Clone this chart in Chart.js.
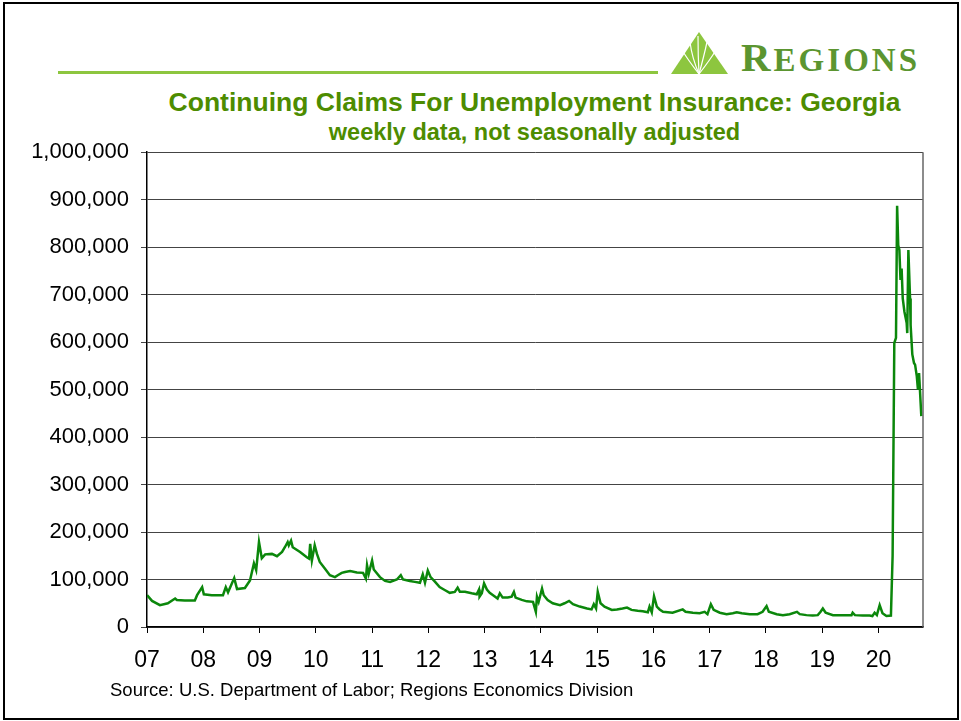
<!DOCTYPE html>
<html>
<head>
<meta charset="utf-8">
<script src="https://cdn.jsdelivr.net/npm/chart.js@4"></script>
<style>
  html, body { margin:0; padding:0; background:#fff; }
  body { width:961px; height:721px; position:relative; overflow:hidden; font-family:"Liberation Sans", Arial, sans-serif; }
  .frame { position:absolute; left:3px; top:2px; width:952px; height:714px; border:2px solid #000; }
  .topline { position:absolute; left:58px; top:71px; width:600px; height:3px; background:#8dc63f; }
  .brand { position:absolute; left:741px; top:33px; color:#5b9530; font-family:"Liberation Serif", serif; font-weight:bold; letter-spacing:3px; white-space:nowrap; }
  .brand .big { font-size:41px; }
  .brand .small { font-size:33px; }
  .title { position:absolute; left:0; width:1069px; text-align:center; color:#4d8c00; font-weight:bold; white-space:nowrap; }
  .t1 { top:87px; font-size:26.5px; }
  .t2 { top:119px; font-size:23.5px; }
  .source { position:absolute; left:110px; top:679px; font-size:18.5px; font-family:"Liberation Sans Narrow", "Liberation Sans", Arial, sans-serif; color:#000; }
  canvas { position:absolute; left:0; top:127px; }
</style>
</head>
<body>
<div class="frame"></div>
<div class="topline"></div>
<svg style="position:absolute;left:668px;top:30px" width="64" height="46" viewBox="0 0 64 46">
  <polygon points="31,2 3,44 60,44" fill="#8dc63f"/>
  <g stroke="#fff" stroke-width="1.2" fill="none">
    <path d="M31,44 Q20,30 14,20"/>
    <path d="M31,44 Q24,28 22,12"/>
    <path d="M31,44 Q30,26 30,6"/>
    <path d="M31,44 Q36,26 39,12"/>
    <path d="M31,44 Q42,30 48,20"/>
  </g>
</svg>
<div class="brand"><span class="big">R</span><span class="small">EGIONS</span></div>
<div class="title t1">Continuing Claims For Unemployment Insurance: Georgia</div>
<div class="title t2">weekly data, not seasonally adjusted</div>
<canvas id="claimsChart" width="940" height="553"></canvas>
<div class="source">Source: U.S. Department of Labor; Regions Economics Division</div>

<script>
// week dates as decimal years
const weeks = [
  2007.00, 2007.09, 2007.23, 2007.37, 2007.50, 2007.53, 2007.67, 2007.85, 2007.89, 2007.98,
  2008.01, 2008.15, 2008.35, 2008.40, 2008.44, 2008.55, 2008.60, 2008.74, 2008.83, 2008.90,
  2008.94, 2008.99, 2009.04, 2009.10, 2009.22, 2009.31, 2009.40, 2009.45, 2009.50, 2009.52,
  2009.56, 2009.59, 2009.72, 2009.84, 2009.88, 2009.90, 2009.93, 2009.98, 2010.02, 2010.07,
  2010.16, 2010.25, 2010.34, 2010.39, 2010.46, 2010.52, 2010.61, 2010.73, 2010.84, 2010.89,
  2010.91, 2010.94, 2011.00, 2011.03, 2011.14, 2011.23, 2011.32, 2011.44, 2011.51, 2011.55,
  2011.67, 2011.76, 2011.85, 2011.90, 2011.94, 2011.99, 2012.04, 2012.12, 2012.20, 2012.29,
  2012.38, 2012.47, 2012.52, 2012.56, 2012.65, 2012.77, 2012.86, 2012.90, 2012.91, 2012.95,
  2012.99, 2013.04, 2013.09, 2013.15, 2013.23, 2013.27, 2013.32, 2013.41, 2013.48, 2013.52,
  2013.55, 2013.66, 2013.75, 2013.86, 2013.91, 2013.93, 2013.96, 2014.02, 2014.05, 2014.12,
  2014.21, 2014.34, 2014.42, 2014.50, 2014.57, 2014.69, 2014.82, 2014.90, 2014.94, 2014.98,
  2015.01, 2015.06, 2015.13, 2015.26, 2015.35, 2015.45, 2015.53, 2015.61, 2015.72, 2015.81,
  2015.90, 2015.93, 2015.97, 2016.01, 2016.06, 2016.11, 2016.17, 2016.34, 2016.52, 2016.57,
  2016.70, 2016.82, 2016.91, 2016.96, 2017.02, 2017.07, 2017.18, 2017.30, 2017.41, 2017.48,
  2017.57, 2017.71, 2017.85, 2017.94, 2018.01, 2018.05, 2018.19, 2018.30, 2018.42, 2018.55,
  2018.60, 2018.72, 2018.83, 2018.92, 2018.97, 2019.01, 2019.06, 2019.19, 2019.37, 2019.52,
  2019.54, 2019.58, 2019.72, 2019.84, 2019.89, 2019.93, 2019.97, 2020.02, 2020.07, 2020.14,
  2020.22, 2020.25, 2020.28, 2020.31, 2020.33, 2020.35, 2020.37, 2020.39, 2020.41, 2020.43,
  2020.46, 2020.50, 2020.51, 2020.53, 2020.56, 2020.57, 2020.60, 2020.63, 2020.65, 2020.68,
  2020.70, 2020.72, 2020.73, 2020.76
];

const claims = [
  67000, 55000, 46000, 50000, 60000, 57000, 56000, 56000, 67000, 84000,
  69000, 67000, 67000, 84000, 73000, 103000, 80000, 82000, 98000, 134000,
  120000, 179000, 145000, 153000, 154000, 149000, 158000, 168000, 179000, 172000,
  182000, 168000, 158000, 147000, 144000, 175000, 140000, 172000, 154000, 137000,
  123000, 109000, 105000, 109000, 114000, 116000, 118000, 115000, 114000, 102000,
  130000, 112000, 140000, 121000, 105000, 97000, 95000, 100000, 109000, 100000,
  97000, 95000, 93000, 111000, 93000, 119000, 105000, 95000, 84000, 78000,
  72000, 74000, 83000, 74000, 74000, 71000, 69000, 79000, 64000, 71000,
  92000, 79000, 72000, 67000, 60000, 71000, 62000, 62000, 64000, 74000,
  62000, 57000, 54000, 53000, 32000, 64000, 53000, 81000, 67000, 57000,
  50000, 46000, 50000, 55000, 48000, 43000, 39000, 37000, 48000, 39000,
  74000, 50000, 43000, 36000, 37000, 39000, 41000, 36000, 34000, 33000,
  31000, 43000, 31000, 65000, 43000, 37000, 32000, 30000, 37000, 32000,
  30000, 29000, 32000, 27000, 48000, 36000, 30000, 27000, 29000, 31000,
  29000, 27000, 27000, 32000, 44000, 32000, 27000, 25000, 27000, 32000,
  27000, 25000, 24000, 25000, 32000, 39000, 30000, 25000, 25000, 25000,
  30000, 25000, 24000, 24000, 23000, 30000, 25000, 46000, 29000, 23000,
  24000, 150000, 598000, 609000, 887000, 804000, 794000, 731000, 755000, 692000,
  664000, 640000, 619000, 794000, 692000, 636000, 574000, 556000, 552000, 528000,
  500000, 535000, 535000, 444000
];

const yearLabels = ['07','08','09','10','11','12','13','14','15','16','17','18','19','20'];
const yTickLabels = ['0','100,000','200,000','300,000','400,000','500,000','600,000','700,000','800,000','900,000','1,000,000'];

// right edge of the plot, drawn in gray
const plotRightEdge = {
  id: 'plotRightEdge',
  afterDraw(chart) {
    const a = chart.chartArea, c = chart.ctx;
    c.save();
    c.strokeStyle = '#666';
    c.lineWidth = 1.5;
    c.beginPath();
    c.moveTo(a.right, a.top);
    c.lineTo(a.right, a.bottom);
    c.stroke();
    c.restore();
  }
};

new Chart(document.getElementById('claimsChart'), {
  type: 'line',
  data: {
    datasets: [{
      data: weeks.map((w, i) => ({ x: w, y: claims[i] })),
      borderColor: '#0b870b',
      borderWidth: 2.5,
      pointRadius: 0,
      tension: 0
    }]
  },
  options: {
    responsive: false,
    animation: false,
    layout: { padding: { top: 14, right: 17, bottom: 0, left: 0 } },
    plugins: { legend: { display: false }, tooltip: { enabled: false } },
    scales: {
      x: {
        type: 'linear',
        min: 2007,
        max: 2020.79,
        afterFit: s => { s.height = 53; },
        border: { color: '#000', width: 1.5 },
        grid: { drawOnChartArea: false, drawTicks: true, tickLength: 6, color: '#000' },
        ticks: {
          stepSize: 1, includeBounds: false, autoSkip: false, maxRotation: 0, padding: 14,
          color: '#000',
          font: { family: '"Liberation Sans Narrow", "Liberation Sans", Arial', size: 23 },
          callback: v => Number.isInteger(v) ? (yearLabels[v - 2007] || '') : ''
        }
      },
      y: {
        min: 0,
        max: 1000000,
        afterFit: s => { s.width = 147; },
        border: { color: '#000', width: 1.5 },
        grid: { color: '#444', lineWidth: 1, tickLength: 6 },
        ticks: {
          stepSize: 100000, padding: 12, color: '#000',
          font: { family: '"Liberation Sans", Arial', size: 22 },
          callback: (v, i) => yTickLabels[i]
        }
      }
    }
  },
  plugins: [plotRightEdge]
});
</script>
</body>
</html>
